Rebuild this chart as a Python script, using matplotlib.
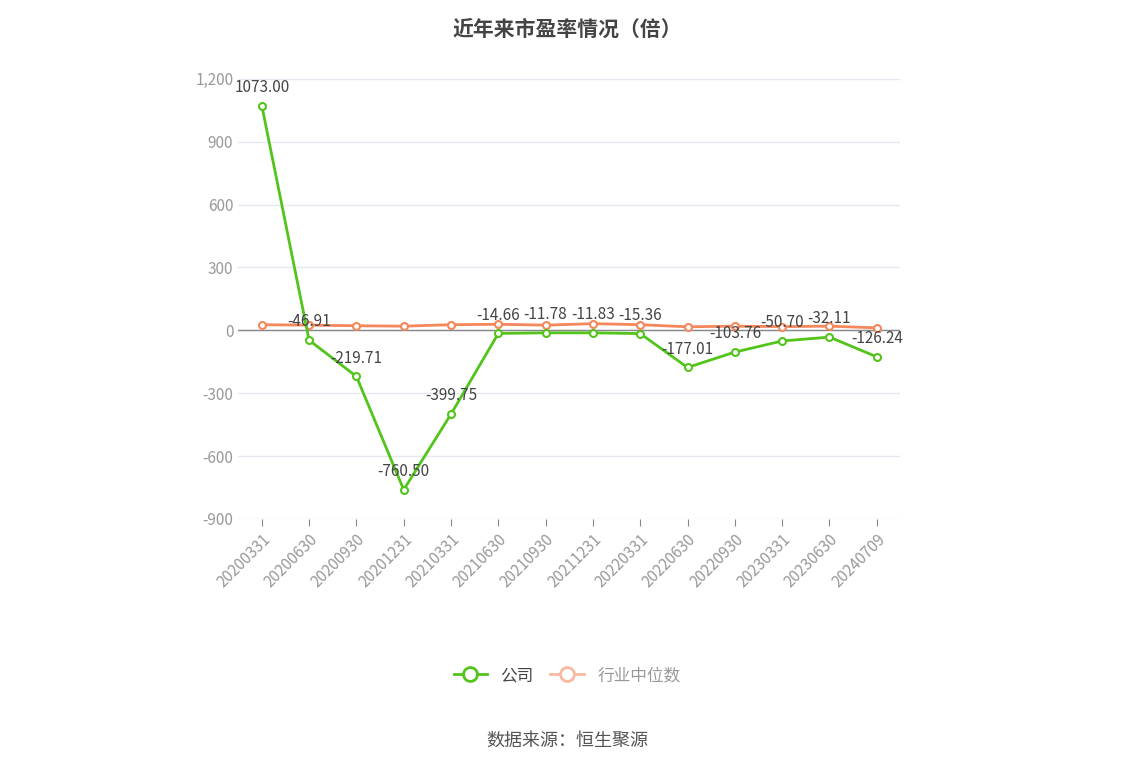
import matplotlib.pyplot as plt
import numpy as np

plt.rcParams['font.family'] = ['Noto Sans CJK SC']

dates = ['20200331', '20200630', '20200930', '20201231', '20210331', '20210630', '20210930',
         '20211231', '20220331', '20220630', '20220930', '20230331', '20230630', '20240709']
company = [1073.00, -46.91, -219.71, -760.50, -399.75, -14.66, -11.78,
           -11.83, -15.36, -177.01, -103.76, -50.70, -32.11, -126.24]
industry = [27, 25, 22, 20, 27, 29, 25, 32, 27, 17, 20, 18, 20, 12]

green = '#52c41a'
orange = '#f5875b'

fig = plt.figure(figsize=(11.34, 7.66), dpi=100)
ax = fig.add_axes([0.21, 0.3225, 0.584, 0.5745])
x = np.arange(len(dates))

ax.plot(x, industry, color=orange, lw=2, marker='o', ms=5, mfc='white', mew=1.5, zorder=3)
ax.plot(x, company, color=green, lw=2, marker='o', ms=5, mfc='white', mew=1.5, zorder=4)
for xi, v in zip(x, company):
    ax.annotate('%.2f' % v, (xi, v), xytext=(0, 7), textcoords='offset points',
                ha='center', va='bottom', fontsize=11, color='#444444', zorder=5)

ax.set_xlim(-0.5, len(dates) - 0.5)
ax.set_ylim(-900, 1200)
ticks = np.arange(-900, 1201, 300)
ax.set_yticks(ticks)
ax.set_yticklabels(['{:,}'.format(t) for t in ticks], color='#999999', fontsize=11)
ax.set_xticks(x)
ax.set_xticklabels(dates, rotation=45, ha='right', rotation_mode='anchor', color='#999999', fontsize=11)
ax.grid(axis='y', color='#e6e8f0', lw=1)
ax.set_axisbelow(True)
for s in ['top', 'right', 'left', 'bottom']:
    ax.spines[s].set_visible(False)
ax.axhline(0, color='#888888', lw=1, zorder=2)
ax.tick_params(axis='y', length=0)
ax.tick_params(axis='x', length=5, color='#888888')
# move x tick marks onto zero line visually: labels stay at bottom

fig.text(0.5, 0.975, '近年来市盈率情况（倍）', ha='center', va='top', fontsize=15, fontweight='bold', color='#444444')

from matplotlib.lines import Line2D
handles = [Line2D([], [], color=green, lw=2, marker='o', ms=10, mfc='white', mew=2),
           Line2D([], [], color='#f9b9a0', lw=2, marker='o', ms=10, mfc='white', mew=2)]
leg = fig.legend(handles, ['公司', '行业中位数'], loc='center', bbox_to_anchor=(0.5, 0.118),
                 ncol=2, frameon=False, fontsize=12, handlelength=2, columnspacing=1)
leg.get_texts()[0].set_color('#444444')
leg.get_texts()[1].set_color('#999999')

fig.text(0.5, 0.033, '数据来源：恒生聚源', ha='center', va='center', fontsize=13, color='#555555')

fig.savefig('out.png', dpi=100)
